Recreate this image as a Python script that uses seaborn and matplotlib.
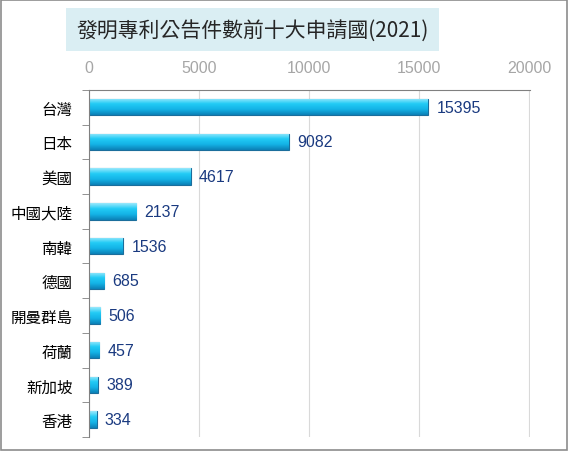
import numpy as np
import pandas as pd
import matplotlib
matplotlib.use("Agg")
import matplotlib.pyplot as plt
import seaborn as sns
from matplotlib.colors import LinearSegmentedColormap
from matplotlib.patches import FancyBboxPatch

# Data
countries = ["台灣", "日本", "美國", "中國大陸", "南韓", "德國", "開曼群島", "荷蘭", "新加坡", "香港"]
counts = [15395, 9082, 4617, 2137, 1536, 685, 506, 457, 389, 334]
x_ticks = [0, 5000, 10000, 15000, 20000]

df = pd.DataFrame({"country": countries, "count": counts})

sns.set_style("white")
plt.rcParams["font.family"] = ["Noto Sans CJK TC", "DejaVu Sans"]
latin = ["Liberation Sans", "DejaVu Sans"]

fig = plt.figure(figsize=(5.68, 4.52), dpi=100)
ax = fig.add_axes([0.157, 0.031, 0.776, 0.768])

sns.barplot(data=df, y="country", x="count", orient="h", color="#19B3E6",
            width=0.47, edgecolor="#1B6E9C", linewidth=0.8, ax=ax)

# vertical gradient on each bar
cmap = LinearSegmentedColormap.from_list("bar", ["#9BE9FC", "#22CBF5", "#14B3E6", "#0C80B6"])
grad = np.linspace(0, 1, 64).reshape(-1, 1)
for p in ax.patches:
    x0, y0 = p.get_x(), p.get_y()
    w, h = p.get_width(), p.get_height()
    im = ax.imshow(grad, cmap=cmap, aspect="auto", extent=[x0, x0 + w, y0 + h, y0],
                   zorder=p.get_zorder() + 0.1)
    im.set_clip_path(p)

ax.bar_label(ax.containers[0], labels=[str(v) for v in counts], padding=6,
             color="#1A3A80", fontsize=11.5, family=latin)

ax.set_xlim(0, 20030)
ax.set_ylim(len(countries) - 0.5, -0.5)
ax.set_xticks(x_ticks)
ax.xaxis.tick_top()
ax.tick_params(axis="x", length=0, pad=11, labelsize=11.5, labelcolor="#A6A6A6")
for lbl in ax.get_xticklabels():
    lbl.set_family(latin)
ax.set_xlabel("")
ax.set_ylabel("")
ax.grid(axis="x", color="#D9D9D9", linewidth=0.8)
ax.set_axisbelow(True)

# category ticks at the boundaries between rows
ax.set_yticks(np.arange(len(countries)), labels=countries)
ax.set_yticks(np.arange(len(countries) + 1) - 0.5, minor=True)
ax.tick_params(axis="y", which="major", length=0, pad=12, labelsize=11.2, labelcolor="black")
ax.tick_params(axis="y", which="minor", length=5, color="#808080", left=True)

for side in ["right", "bottom"]:
    ax.spines[side].set_visible(False)
ax.spines["left"].set_color("#808080")
ax.spines["top"].set_color("#808080")

# title with light blue box
fig.text(0.444, 0.933, "發明專利公告件數前十大申請國(2021)", ha="center", va="center",
         fontsize=15, color="#262626",
         bbox=dict(boxstyle="square,pad=0.5", facecolor="#DAEEF3", edgecolor="none"))

# outer border
fig.patches.append(FancyBboxPatch((0.002, 0.002), 0.996, 0.996, boxstyle="square,pad=0",
                                  transform=fig.transFigure, fill=False,
                                  edgecolor="#8C8C8C", linewidth=1.2))

fig.savefig("out.png", dpi=100)
